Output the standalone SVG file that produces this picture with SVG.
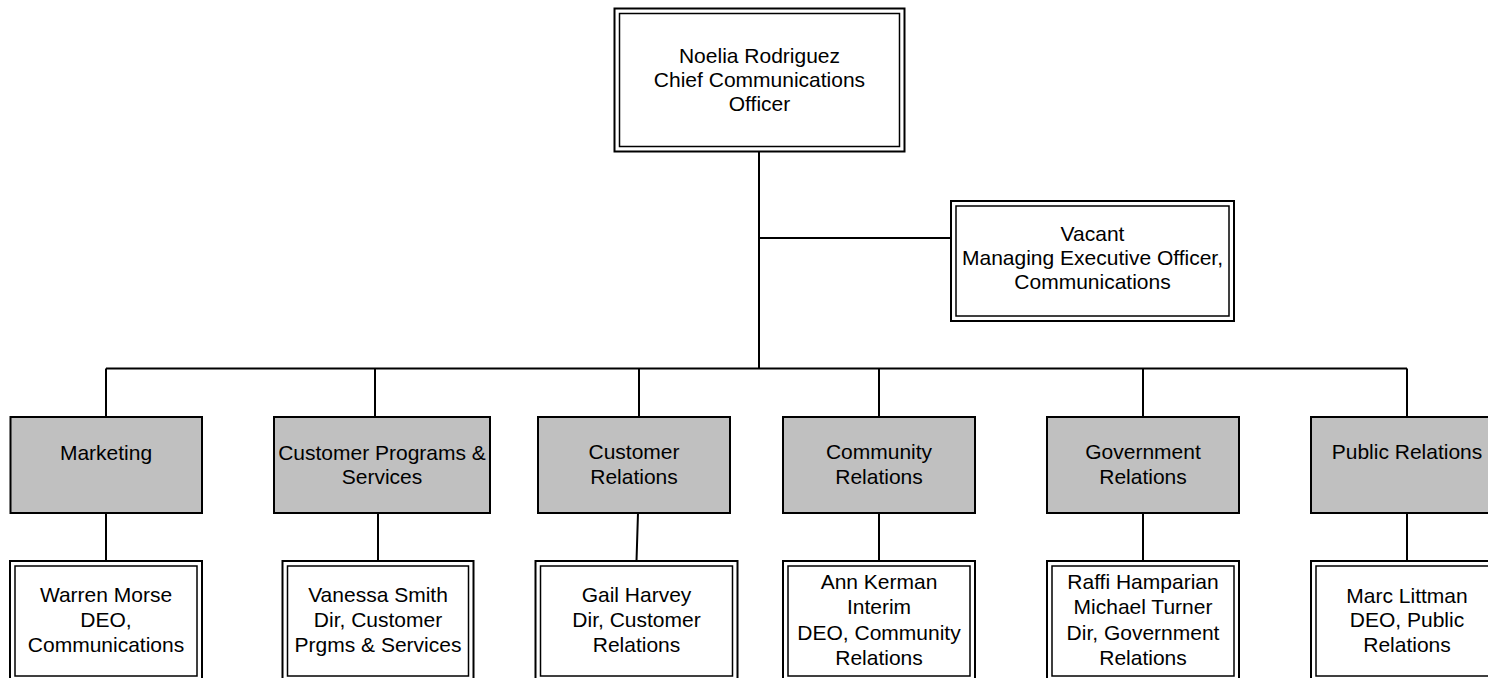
<svg xmlns="http://www.w3.org/2000/svg" width="1488" height="678" viewBox="0 0 1488 678">
<style>
.t{font-family:"Liberation Sans",Arial,sans-serif;font-size:21px;fill:#000;text-anchor:middle}
.o{fill:#fff;stroke:#000;stroke-width:2}
.i{fill:none;stroke:#000;stroke-width:1.5}
.g{fill:#c0c0c0;stroke:#000;stroke-width:2}
.c{fill:none;stroke:#000;stroke-width:2}
</style>
<rect width="1488" height="678" fill="#fff"/>
<g id="connectors">
<path class="c" d="M759,152V368.5M759,238H951M106,368.5H1407"/>
<path class="c" d="M106,368.5V417M375,368.5V417M639,368.5V417M879,368.5V417M1143,368.5V417M1407,368.5V417"/>
<path class="c" d="M106,513V561M378,513V561M638,513L636.5,561M879,513V561M1143,513V561M1407,513V561"/>
</g>
<g id="cco">
<rect class="o" x="614.5" y="8.5" width="290" height="143"/>
<rect class="i" x="619.5" y="13.5" width="280" height="133"/>
<text class="t" x="759.5" y="63">Noelia Rodriguez</text>
<text class="t" x="759.5" y="87">Chief Communications</text>
<text class="t" x="759.5" y="111">Officer</text>
</g>
<g id="meo">
<rect class="o" x="951" y="201" width="283" height="120"/>
<rect class="i" x="956" y="206" width="273" height="110"/>
<text class="t" x="1092.5" y="241">Vacant</text>
<text class="t" x="1092.5" y="265">Managing Executive Officer,</text>
<text class="t" x="1092.5" y="289">Communications</text>
</g>
<g id="marketing">
<rect class="g" x="10.5" y="417" width="191.5" height="96"/>
<text class="t" x="106" y="460">Marketing</text>
</g>
<g id="cps">
<rect class="g" x="274" y="417" width="216" height="96"/>
<text class="t" x="382" y="460">Customer Programs &amp;</text>
<text class="t" x="382" y="484">Services</text>
</g>
<g id="cr">
<rect class="g" x="538" y="417" width="192" height="96"/>
<text class="t" x="634" y="459">Customer</text>
<text class="t" x="634" y="484">Relations</text>
</g>
<g id="comr">
<rect class="g" x="783" y="417" width="192" height="96"/>
<text class="t" x="879" y="459">Community</text>
<text class="t" x="879" y="484">Relations</text>
</g>
<g id="gr">
<rect class="g" x="1047" y="417" width="192" height="96"/>
<text class="t" x="1143" y="459">Government</text>
<text class="t" x="1143" y="484">Relations</text>
</g>
<g id="pr">
<rect class="g" x="1311" y="417" width="192" height="96"/>
<text class="t" x="1407" y="459">Public Relations</text>
</g>
<g id="morse">
<rect class="o" x="10" y="561" width="192" height="120"/>
<rect class="i" x="15" y="566" width="182" height="110"/>
<text class="t" x="106" y="602">Warren Morse</text>
<text class="t" x="106" y="627">DEO,</text>
<text class="t" x="106" y="652">Communications</text>
</g>
<g id="smith">
<rect class="o" x="282.5" y="561" width="191" height="120"/>
<rect class="i" x="287.5" y="566" width="181" height="110"/>
<text class="t" x="378" y="602">Vanessa Smith</text>
<text class="t" x="378" y="627">Dir, Customer</text>
<text class="t" x="378" y="652">Prgms &amp; Services</text>
</g>
<g id="harvey">
<rect class="o" x="535.5" y="561" width="202" height="120"/>
<rect class="i" x="540.5" y="566" width="192" height="110"/>
<text class="t" x="636.5" y="602">Gail Harvey</text>
<text class="t" x="636.5" y="627">Dir, Customer</text>
<text class="t" x="636.5" y="652">Relations</text>
</g>
<g id="kerman">
<rect class="o" x="783" y="561" width="192" height="120"/>
<rect class="i" x="788" y="566" width="182" height="110"/>
<text class="t" x="879" y="589">Ann Kerman</text>
<text class="t" x="879" y="614">Interim</text>
<text class="t" x="879" y="640">DEO, Community</text>
<text class="t" x="879" y="665">Relations</text>
</g>
<g id="hamparian">
<rect class="o" x="1047" y="561" width="192" height="120"/>
<rect class="i" x="1052" y="566" width="182" height="110"/>
<text class="t" x="1143" y="589">Raffi Hamparian</text>
<text class="t" x="1143" y="614">Michael Turner</text>
<text class="t" x="1143" y="640">Dir, Government</text>
<text class="t" x="1143" y="665">Relations</text>
</g>
<g id="littman">
<rect class="o" x="1311" y="561" width="192" height="120"/>
<rect class="i" x="1316" y="566" width="182" height="110"/>
<text class="t" x="1407" y="603">Marc Littman</text>
<text class="t" x="1407" y="627">DEO, Public</text>
<text class="t" x="1407" y="652">Relations</text>
</g>
</svg>
